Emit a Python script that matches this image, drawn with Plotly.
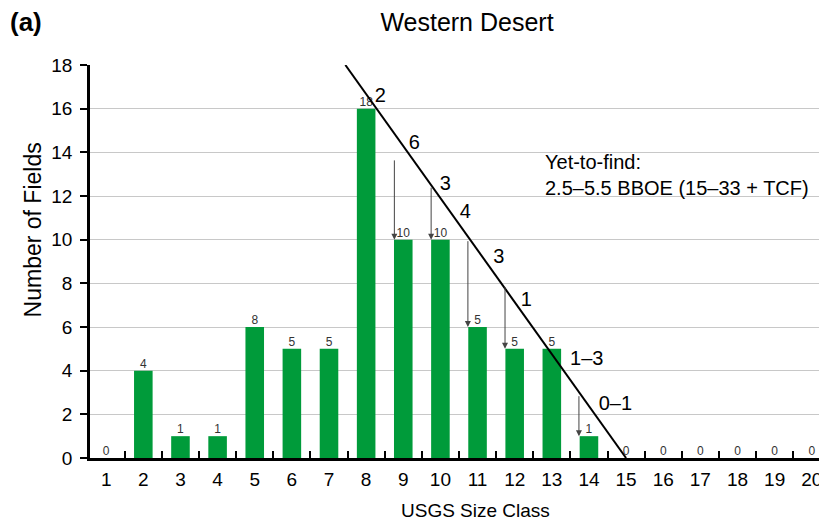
import plotly.graph_objects as go

# ---------------- data ----------------
size_class = list(range(1, 21))
num_fields = [0, 4, 1, 1, 6, 5, 5, 16, 10, 10, 6, 5, 5, 1, 0, 0, 0, 0, 0, 0]
bar_labels = ["0", "4", "1", "1", "8", "5", "5", "18", "10", "10", "5", "5", "5", "1",
              "0", "0", "0", "0", "0", "0"]

# trend line (yet-to-find envelope)
trend_x = [7.44, 15.0]
trend_y = [18.0, 0.0]

# numbers written along the trend line
line_lbl_text = ["2", "6", "3", "4", "3", "1", "1–3", "0–1"]
line_lbl_x = [8.38, 9.30, 10.13, 10.67, 11.57, 12.31, 13.94, 14.71]
line_lbl_y = [16.55, 14.37, 12.51, 11.24, 9.15, 7.17, 4.47, 2.44]

# arrows from envelope down to bars
arrow_x = [8.76, 9.75, 10.74, 11.74, 13.73]
arrow_top = [13.7, 12.45, 10.0, 7.9, 2.9]
arrow_bottom = [10.0, 10.0, 6.0, 5.0, 1.0]

tick_boundaries = [c + 0.5 for c in size_class]
y_ticks = list(range(0, 19, 2))

FONT = "Liberation Sans, Arial, Helvetica, sans-serif"
GREEN = "#009B3A"
X_RANGE = [0.564, 20.41]

# page layout (the html body adds an 8px offset)
OFF = 8
PLOT_L, PLOT_R, PLOT_T, PLOT_B = 89.5, 827.0, 65.0, 458.3
W, H = 827 - OFF, 524 - OFF
PW, PH = PLOT_R - PLOT_L, PLOT_B - PLOT_T


def px(x):
    return (x - PLOT_L) / PW


def py(y):
    return (PLOT_B - y) / PH


fig = go.Figure()

fig.add_trace(go.Bar(
    x=size_class, y=num_fields, width=0.5,
    marker=dict(color=GREEN, line=dict(width=0)),
    showlegend=False, hoverinfo="x+y",
))

fig.add_trace(go.Scatter(
    x=size_class, y=num_fields, mode="text", text=bar_labels,
    textposition="top center",
    textfont=dict(family=FONT, size=12, color="#333333"),
    showlegend=False, hoverinfo="skip", cliponaxis=False,
))

fig.add_trace(go.Scatter(
    x=trend_x, y=trend_y, mode="lines",
    line=dict(color="black", width=2),
    showlegend=False, hoverinfo="skip", cliponaxis=False,
))

fig.add_trace(go.Scatter(
    x=line_lbl_x, y=line_lbl_y, mode="text", text=line_lbl_text,
    textposition="middle center",
    textfont=dict(family=FONT, size=20, color="black"),
    showlegend=False, hoverinfo="skip", cliponaxis=False,
))

# dummy trace on label axis
fig.add_trace(go.Scatter(
    x=size_class, y=[None] * len(size_class), xaxis="x2", mode="markers",
    showlegend=False, hoverinfo="skip",
))

for xa, yt, yb in zip(arrow_x, arrow_top, arrow_bottom):
    fig.add_annotation(
        x=xa, y=yb, ax=xa, ay=yt, xref="x", yref="y", axref="x", ayref="y",
        text="", showarrow=True, arrowhead=2, arrowsize=1.2, arrowwidth=1,
        arrowcolor="#444444",
    )

fig.add_annotation(
    x=12.77, y=12.97, xref="x", yref="y", xanchor="left", yanchor="middle",
    text="Yet-to-find:<br>2.5–5.5 BBOE (15–33 + TCF)", align="left",
    showarrow=False, font=dict(family=FONT, size=20, color="black"),
)

fig.add_annotation(
    x=px(25), y=py(22), xref="paper", yref="paper",
    xanchor="center", yanchor="middle",
    text="<b>(a)</b>", showarrow=False,
    font=dict(family=FONT, size=26, color="black"),
)

fig.add_annotation(
    x=px(475.5), y=py(511), xref="paper", yref="paper",
    xanchor="center", yanchor="middle",
    text="USGS Size Class", showarrow=False,
    font=dict(family=FONT, size=19, color="black"),
)

fig.add_annotation(
    x=px(32), y=py(230), xref="paper", yref="paper",
    xanchor="center", yanchor="middle", textangle=-90,
    text="Number of Fields", showarrow=False,
    font=dict(family=FONT, size=23, color="black"),
)

fig.update_layout(
    width=W, height=H,
    margin=dict(l=PLOT_L - OFF, r=0, t=PLOT_T - OFF, b=H - (PLOT_B - OFF), pad=0,
                autoexpand=False),
    paper_bgcolor="white", plot_bgcolor="white",
    font=dict(family=FONT, color="black"),
    title=dict(text="Western Desert", x=(467 - OFF) / W, xref="container", xanchor="center",
               y=1 - (22 - OFF) / H, yref="container", yanchor="middle",
               font=dict(family=FONT, size=25, color="black")),
    bargap=0.5,
    xaxis=dict(
        range=X_RANGE, tickmode="array", tickvals=tick_boundaries,
        showticklabels=False, ticks="inside", ticklen=7, tickwidth=1.5,
        tickcolor="black", showgrid=False, zeroline=False, automargin=False,
        showline=True, linecolor="black", linewidth=3,
    ),
    xaxis2=dict(
        range=X_RANGE, overlaying="x", anchor="y", side="bottom",
        tickmode="array", tickvals=size_class, ticktext=[str(c) for c in size_class],
        ticks="", showgrid=False, zeroline=False, showline=False, automargin=False,
        ticklabelstandoff=8,
        tickfont=dict(family=FONT, size=19, color="black"),
    ),
    yaxis=dict(
        range=[0, 18], tickmode="array", tickvals=y_ticks,
        ticks="outside", ticklen=7, tickwidth=1.5, tickcolor="black",
        tickfont=dict(family=FONT, size=19, color="black"), ticklabelstandoff=4,
        showgrid=True, gridcolor="#C8C8C8", gridwidth=1, automargin=False,
        zeroline=False, showline=True, linecolor="black", linewidth=2.5,
    ),
)

fig.write_html("out.html")
